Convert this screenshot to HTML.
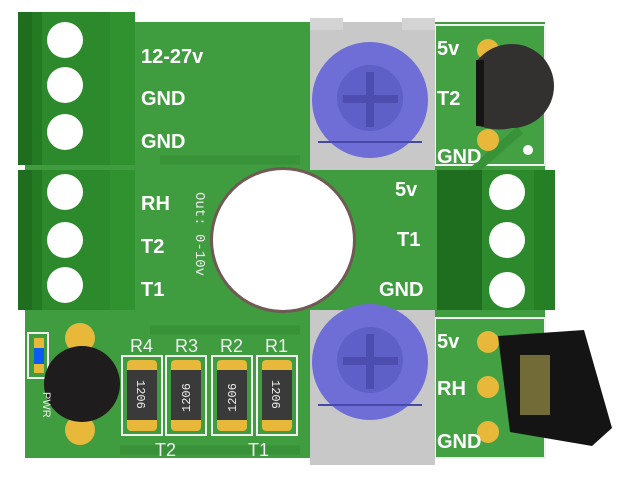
<!DOCTYPE html><html><head><style>body{margin:0;background:#fff}svg{display:block}</style></head><body>
<svg width="640" height="486" viewBox="0 0 640 486" xmlns="http://www.w3.org/2000/svg" font-family="Liberation Sans, sans-serif">
<rect x="25" y="22" width="520" height="436" fill="#3f9c3f"/>
<rect x="435" y="25" width="110" height="140" fill="#43a143" stroke="#f0f0f0" stroke-width="2"/>
<rect x="435" y="318" width="110" height="140" fill="#43a143" stroke="#f0f0f0" stroke-width="2"/>
<g stroke="#389238" stroke-width="9" fill="none"><path d="M160 160 L300 160"/><path d="M150 330 L300 330"/><path d="M120 450 L300 450"/><path d="M440 200 L520 130"/></g>
<circle cx="283" cy="240" r="73" fill="#6f5a55"/><circle cx="283" cy="240" r="70" fill="#fff"/>
<rect x="18" y="12" width="117" height="153" fill="#2c8a2c"/>
<rect x="18" y="12" width="14" height="153" fill="#1f6e1f"/>
<rect x="32" y="12" width="10" height="153" fill="#237a23"/>
<rect x="110" y="12" width="25" height="153" fill="#2f922f"/>
<circle cx="65" cy="40" r="18" fill="#fff"/><circle cx="65" cy="85" r="18" fill="#fff"/><circle cx="65" cy="132" r="18" fill="#fff"/>
<rect x="18" y="170" width="117" height="140" fill="#2c8a2c"/>
<rect x="18" y="170" width="14" height="140" fill="#1f6e1f"/>
<rect x="32" y="170" width="10" height="140" fill="#237a23"/>
<rect x="110" y="170" width="25" height="140" fill="#2f922f"/>
<circle cx="65" cy="192" r="18" fill="#fff"/><circle cx="65" cy="240" r="18" fill="#fff"/><circle cx="65" cy="285" r="18" fill="#fff"/>
<rect x="437" y="170" width="118" height="140" fill="#2c8a2c"/>
<rect x="437" y="170" width="45" height="140" fill="#1f6e1f"/>
<rect x="534" y="170" width="21" height="140" fill="#258025"/>
<circle cx="507" cy="192" r="18" fill="#fff"/><circle cx="507" cy="240" r="18" fill="#fff"/><circle cx="507" cy="290" r="18" fill="#fff"/>
<g>
<rect x="310" y="22" width="125" height="148" fill="#c8c8c8"/>
<rect x="310" y="18" width="33" height="12" fill="#d4d4d4"/><rect x="402" y="18" width="33" height="12" fill="#d4d4d4"/>
<circle cx="370" cy="100" r="58" fill="#6e6ed6"/>
<circle cx="370" cy="98" r="33" fill="#5f5fc8"/>
<rect x="343" y="95" width="55" height="8" fill="#4d4daf"/><rect x="366" y="72" width="8" height="55" fill="#4d4daf"/>
<path d="M318 142 L422 142" stroke="#4848a8" stroke-width="2"/>
</g>
<g>
<rect x="310" y="310" width="125" height="155" fill="#c8c8c8"/>
<circle cx="370" cy="362" r="58" fill="#6e6ed6"/>
<circle cx="370" cy="360" r="33" fill="#5f5fc8"/>
<rect x="343" y="357" width="55" height="8" fill="#4d4daf"/><rect x="366" y="334" width="8" height="55" fill="#4d4daf"/>
<path d="M318 405 L422 405" stroke="#4848a8" stroke-width="2"/>
</g>
<circle cx="488" cy="50" r="11" fill="#e7b83a"/><circle cx="488" cy="140" r="11" fill="#e7b83a"/>
<circle cx="528" cy="150" r="5" fill="#fff"/>
<path d="M476 62 L476 125 Q495 132 512 128 A40 40 0 0 0 512 44 Q490 44 476 62Z" fill="#333030"/>
<rect x="476" y="60" width="8" height="66" fill="#161414"/>
<rect x="28" y="333" width="20" height="45" fill="none" stroke="#f0f0f0" stroke-width="2"/>
<rect x="34" y="338" width="10" height="35" fill="#e7b83a"/><rect x="34" y="348" width="10" height="16" fill="#0a5cf0"/>
<circle cx="80" cy="338" r="15" fill="#e7b83a"/><circle cx="80" cy="430" r="15" fill="#e7b83a"/>
<circle cx="82" cy="384" r="38" fill="#1e1c1c"/>
<text x="30" y="395" font-size="11" fill="#eee" transform="rotate(90 38 400)">PWR</text>
<g font-size="18" fill="#f0f0f0">
<text x="130" y="352">R4</text><text x="175" y="352">R3</text><text x="220" y="352">R2</text><text x="265" y="352">R1</text>
<text x="155" y="456">T2</text><text x="248" y="456">T1</text>
</g>
<g>
<rect x="122" y="356" width="40" height="79" fill="none" stroke="#f0f0f0" stroke-width="2"/>
<rect x="166" y="356" width="40" height="79" fill="none" stroke="#f0f0f0" stroke-width="2"/>
<rect x="212" y="356" width="40" height="79" fill="none" stroke="#f0f0f0" stroke-width="2"/>
<rect x="257" y="356" width="40" height="79" fill="none" stroke="#f0f0f0" stroke-width="2"/>
</g>
<g>
<rect x="127" y="360" width="30" height="71" rx="4" fill="#e7b83a"/><rect x="127" y="370" width="30" height="50" fill="#3a3a3a"/>
<rect x="171" y="360" width="30" height="71" rx="4" fill="#e7b83a"/><rect x="171" y="370" width="30" height="50" fill="#3a3a3a"/>
<rect x="217" y="360" width="30" height="71" rx="4" fill="#e7b83a"/><rect x="217" y="370" width="30" height="50" fill="#3a3a3a"/>
<rect x="262" y="360" width="30" height="71" rx="4" fill="#e7b83a"/><rect x="262" y="370" width="30" height="50" fill="#3a3a3a"/>
</g>
<g font-family="Liberation Mono, monospace" font-size="12" fill="#eee">
<text transform="translate(137 380) rotate(90)">1206</text>
<text transform="translate(190 412) rotate(-90)">1206</text>
<text transform="translate(236 412) rotate(-90)">1206</text>
<text transform="translate(272 380) rotate(90)">1206</text>
<text transform="translate(196 192) rotate(90)" font-size="14">Out: 0-10v</text>
</g>
<circle cx="488" cy="342" r="11" fill="#e7b83a"/><circle cx="488" cy="387" r="11" fill="#e7b83a"/><circle cx="488" cy="432" r="11" fill="#e7b83a"/>
<path d="M498 336 L584 330 L612 428 L592 446 L510 432 Z" fill="#141414"/>
<rect x="520" y="355" width="30" height="60" fill="#8a8040" opacity="0.8"/>
<g font-size="20" font-weight="bold" fill="#fff">
<text x="141" y="63">12-27v</text><text x="141" y="105">GND</text><text x="141" y="148">GND</text>
<text x="141" y="210">RH</text><text x="141" y="253">T2</text><text x="141" y="296">T1</text>
<text x="437" y="55">5v</text><text x="437" y="105">T2</text><text x="437" y="163">GND</text>
<text x="395" y="196">5v</text><text x="397" y="246">T1</text><text x="379" y="296">GND</text>
<text x="437" y="348">5v</text><text x="437" y="395">RH</text><text x="437" y="448">GND</text>
</g>
</svg>
</body></html>
